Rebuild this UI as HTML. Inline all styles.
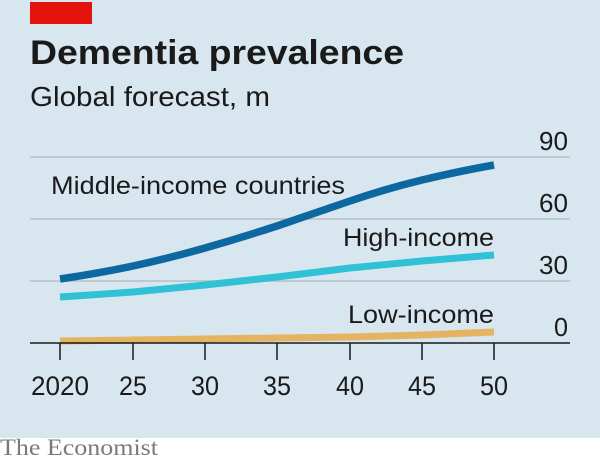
<!DOCTYPE html>
<html><head><meta charset="utf-8"><style>
html,body{margin:0;padding:0;background:#fff;}
svg{display:block;}
</style></head><body>
<svg width="600" height="462" viewBox="0 0 600 462" xmlns="http://www.w3.org/2000/svg" font-family="Liberation Sans, sans-serif">
<rect x="0" y="0" width="600" height="438" fill="#d8e6ef"/>
<rect x="30" y="2" width="62" height="22" fill="#e3120b"/>
<text x="30" y="64" font-size="34" font-weight="bold" fill="#1a1a1a" textLength="374" lengthAdjust="spacingAndGlyphs">Dementia prevalence</text>
<text x="30" y="106" font-size="28" fill="#1a1a1a" textLength="240" lengthAdjust="spacingAndGlyphs">Global forecast, m</text>
<g stroke="#b3bfc7" stroke-width="1.5">
<line x1="30" y1="157" x2="570" y2="157"/>
<line x1="30" y1="219" x2="570" y2="219"/>
<line x1="30" y1="281" x2="570" y2="281"/>
</g>
<g font-size="26" fill="#1a1a1a" text-anchor="end">
<text x="568" y="150" textLength="29" lengthAdjust="spacingAndGlyphs">90</text>
<text x="568" y="212" textLength="29" lengthAdjust="spacingAndGlyphs">60</text>
<text x="568" y="274" textLength="29" lengthAdjust="spacingAndGlyphs">30</text>
<text x="568" y="336" textLength="14" lengthAdjust="spacingAndGlyphs">0</text>
</g>
<polyline fill="none" stroke="#e5b462" stroke-width="7" points="60,341 133,340 205,339 277,338 350,337 422,335 494,332"/>
<polyline fill="none" stroke="#2fc1d6" stroke-width="7" stroke-linejoin="round" points="60,297 133,292 205,285 277,277 350,268 422,261 494,255"/>
<path fill="none" stroke="#0d68a1" stroke-width="7.5" stroke-linejoin="round" d="M60,279 Q100,273 133,266 Q170,258 205,248 Q240,238 277,226 Q315,213 350,201 Q385,189 422,180 Q460,171 494,165"/>
<line x1="30" y1="343" x2="570" y2="343" stroke="#1a1a1a" stroke-width="1.5"/>
<g stroke="#1a1a1a" stroke-width="1.5">
<line x1="60" y1="343" x2="60" y2="360"/>
<line x1="133" y1="343" x2="133" y2="360"/>
<line x1="205" y1="343" x2="205" y2="360"/>
<line x1="277" y1="343" x2="277" y2="360"/>
<line x1="350" y1="343" x2="350" y2="360"/>
<line x1="422" y1="343" x2="422" y2="360"/>
<line x1="494" y1="343" x2="494" y2="360"/>
</g>
<g font-size="27" fill="#1a1a1a" text-anchor="middle">
<text x="60" y="395" textLength="58" lengthAdjust="spacingAndGlyphs">2020</text>
<text x="133" y="395" textLength="28" lengthAdjust="spacingAndGlyphs">25</text>
<text x="205" y="395" textLength="28" lengthAdjust="spacingAndGlyphs">30</text>
<text x="277" y="395" textLength="28" lengthAdjust="spacingAndGlyphs">35</text>
<text x="350" y="395" textLength="28" lengthAdjust="spacingAndGlyphs">40</text>
<text x="422" y="395" textLength="28" lengthAdjust="spacingAndGlyphs">45</text>
<text x="494" y="395" textLength="28" lengthAdjust="spacingAndGlyphs">50</text>
</g>
<g font-size="25" fill="#1a1a1a">
<text x="51" y="194" textLength="294" lengthAdjust="spacingAndGlyphs">Middle-income countries</text>
<text x="494" y="246" text-anchor="end" textLength="151" lengthAdjust="spacingAndGlyphs">High-income</text>
<text x="494" y="323" text-anchor="end" textLength="146" lengthAdjust="spacingAndGlyphs">Low-income</text>
</g>
<text x="0" y="455" font-family="Liberation Serif, serif" font-size="23" fill="#7a7a7a" textLength="158" lengthAdjust="spacingAndGlyphs">The Economist</text>
</svg>
</body></html>
